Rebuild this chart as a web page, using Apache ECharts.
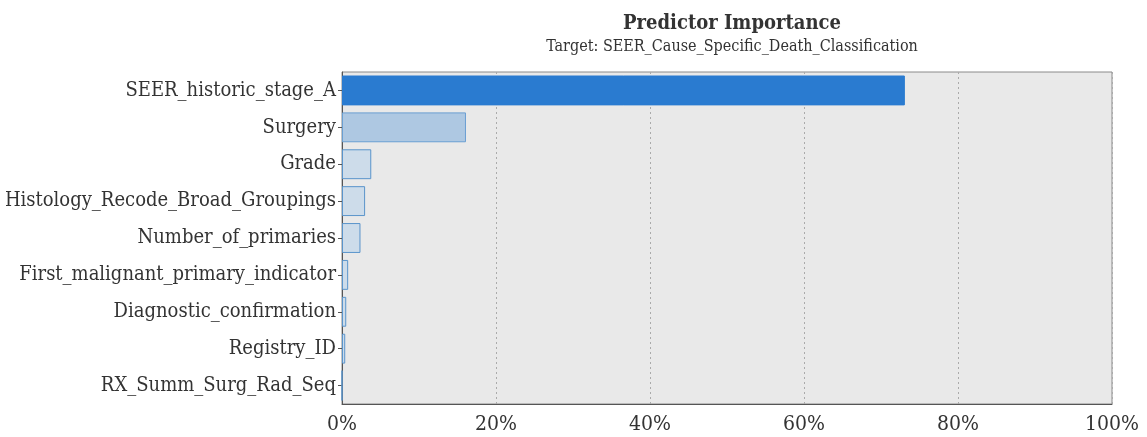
<!DOCTYPE html>
<html><head><meta charset="utf-8">
<script src="https://cdn.jsdelivr.net/npm/echarts@6/dist/echarts.min.js"></script>
<style>html,body{margin:0;padding:0;background:#fff}#c{width:1147px;height:437px}</style>
</head><body><div id="c"></div>
<script>
const categories = ["SEER_historic_stage_A","Surgery","Grade","Histology_Recode_Broad_Groupings","Number_of_primaries","First_malignant_primary_indicator","Diagnostic_confirmation","Registry_ID","RX_Summ_Surg_Rad_Seq"];
const values = [73.1, 16.1, 3.8, 3.0, 2.4, 0.8, 0.55, 0.42, 0.0];
const xTicks = [0, 20, 40, 60, 80, 100];
const FONT = "'DejaVu Serif Condensed', 'DejaVu Serif', serif";
function fillFor(i){ return i===0 ? '#2a7bd0' : (i===1 ? '#aec8e2' : '#cddcea'); }
function borderFor(i){ return i===0 ? '#2a7bd0' : (i===1 ? '#6a9fd2' : '#5a94cb'); }
const chart = echarts.init(document.getElementById('c'));
chart.setOption({
  animation:false,
  title:{text:'Predictor Importance', subtext:'Target: SEER_Cause_Specific_Death_Classification',
    left:727, textAlign:'center', top:9, itemGap:5,
    textStyle:{fontFamily:FONT,fontSize:20,fontWeight:'bold',color:'#333'},
    subtextStyle:{fontFamily:FONT,fontSize:16,color:'#333'}},
  grid:{left:342, right:35, top:72, bottom:33, show:true, backgroundColor:'#e9e9e9', borderColor:'#8a8a8a', borderWidth:1},
  xAxis:{type:'value', min:0, max:100, interval:20,
    axisLine:{show:true, lineStyle:{color:'#555'}}, axisTick:{show:false},
    axisLabel:{fontFamily:FONT, fontSize:21, color:'#333', margin:10, formatter:v=>v+'%',
      alignMinLabel:'center', alignMaxLabel:'center'},
    splitLine:{show:true, lineStyle:{color:'#aaa', type:[2,3]}}},
  yAxis:{type:'category', data:categories, inverse:true,
    axisLine:{show:true, lineStyle:{color:'#555'}},
    axisTick:{show:true, alignWithLabel:true, length:4, lineStyle:{color:'#555'}},
    axisLabel:{fontFamily:FONT, fontSize:20, color:'#333', margin:6},
    splitLine:{show:false}},
  series:[{type:'bar', barCategoryGap:'19%',
    data: values.map((v,i)=>({value:v, itemStyle:{color:fillFor(i), borderColor:borderFor(i), borderWidth:1}}))}]
});
</script></body></html>
